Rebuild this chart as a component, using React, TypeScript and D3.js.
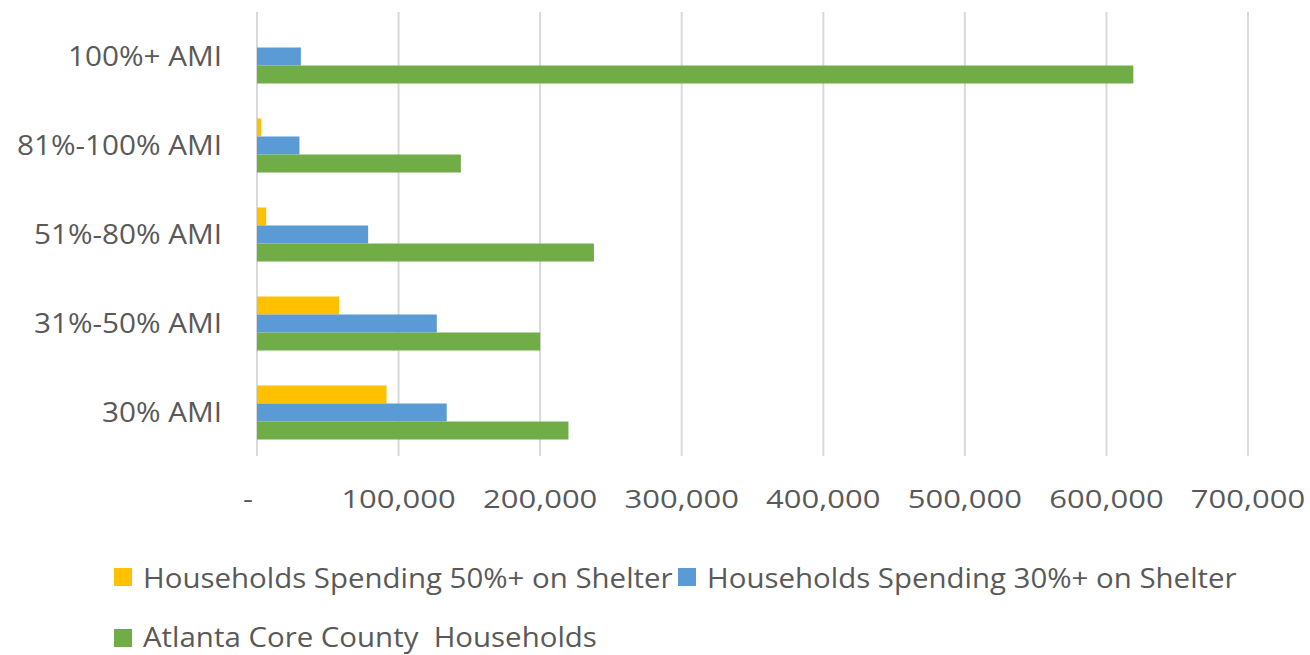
import React from "react";
import * as d3 from "d3";

const categories = ["100%+ AMI", "81%-100% AMI", "51%-80% AMI", "31%-50% AMI", "30% AMI"];
const seriesNames = [
  "Households Spending 50%+ on Shelter",
  "Households Spending 30%+ on Shelter",
  "Atlanta Core County  Households",
];
const spending50 = [0, 3000, 6500, 58000, 91500];
const spending30 = [31000, 30000, 78500, 127000, 134000];
const coreHouseholds = [619000, 144000, 238000, 200000, 220000];
const tickValues = [0, 100000, 200000, 300000, 400000, 500000, 600000, 700000];
const colors = ["#FFC000", "#5B9BD5", "#70AD47"];

const W = 1310;
const H = 655;
const FONT = "'Open Sans', 'Noto Sans', sans-serif";
const TEXT = "#595959";

function SText(props: {
  x: number;
  y: number;
  sx: number;
  anchor?: "start" | "middle" | "end";
  size?: number;
  children: React.ReactNode;
}) {
  const { x, y, sx, anchor = "start", size = 25, children } = props;
  return (
    <text
      transform={`translate(${x},${y}) scale(${sx},1)`}
      textAnchor={anchor}
      dominantBaseline="central"
      fontFamily={FONT}
      fontSize={size}
      fill={TEXT}
      style={{ whiteSpace: "pre" }}
    >
      {children}
    </text>
  );
}

export default function App() {
  const x = d3.scaleLinear().domain([0, 700000]).range([257, 1248]);
  const y = d3.scaleBand<string>().domain(categories).range([12, 457]).paddingInner(0.393).paddingOuter(0.1965);
  const inner = d3.scaleBand<number>().domain([0, 1, 2]).range([0, y.bandwidth()]);
  const series = [spending50, spending30, coreHouseholds];
  const fmt = (v: number) => (v === 0 ? "-" : d3.format(",")(v));

  return (
    <svg width={W} height={H} style={{ position: "absolute", left: 0, top: 0, background: "#fff" }}>
      <rect x={0} y={0} width={W} height={H} fill="#fff" />
      {tickValues.map((t) => (
        <line key={"g" + t} x1={x(t)} x2={x(t)} y1={12} y2={456} stroke="#D9D9D9" strokeWidth={2} />
      ))}
      {series.map((vals, si) =>
        categories.map((c, ci) => (
          <rect
            key={si + "-" + ci}
            x={x(0)}
            y={(y(c) as number) + (inner(si) as number)}
            width={x(vals[ci]) - x(0)}
            height={inner.bandwidth()}
            fill={colors[si]}
          />
        ))
      )}
      {categories.map((c) => (
        <SText key={"c" + c} x={222} y={(y(c) as number) + y.bandwidth() / 2 - 0.5} sx={1.1} size={27} anchor="end">
          {c}
        </SText>
      ))}
      {tickValues.map((t) => (
        <SText key={"t" + t} x={t === 0 ? x(t) - 9 : x(t)} y={498.5} sx={1.24} size={25} anchor="middle">
          {fmt(t)}
        </SText>
      ))}
      {/* legend */}
      <rect x={114} y={568} width={18} height={18} fill={colors[0]} />
      <SText x={143} y={577} sx={1.09} size={27}>
        {seriesNames[0]}
      </SText>
      <rect x={678} y={568} width={18} height={18} fill={colors[1]} />
      <SText x={707} y={577} sx={1.09} size={27}>
        {seriesNames[1]}
      </SText>
      <rect x={114} y={629} width={18} height={18} fill={colors[2]} />
      <SText x={143} y={636.5} sx={1.09} size={27}>
        {seriesNames[2]}
      </SText>
    </svg>
  );
}
